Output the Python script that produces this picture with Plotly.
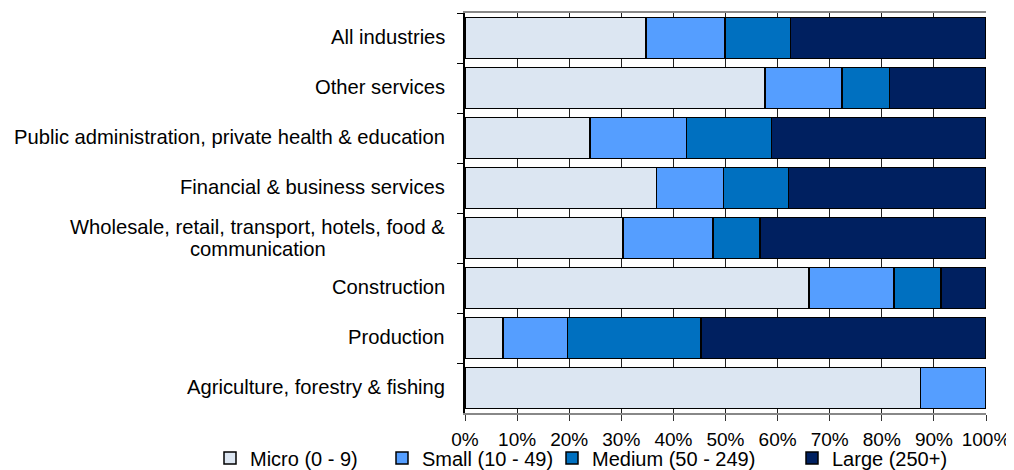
import plotly.graph_objects as go

categories = [
    "All industries",
    "Other services",
    "Public administration, private health & education",
    "Financial & business services",
    "Wholesale, retail, transport, hotels, food & communication",
    "Construction",
    "Production",
    "Agriculture, forestry & fishing",
]
# how each category label is broken into lines
label_lines = {
    "Wholesale, retail, transport, hotels, food & communication":
        ["Wholesale, retail, transport, hotels, food &", "communication"],
}

series_names = ["Micro (0 - 9)", "Small (10 - 49)", "Medium (50 - 249)", "Large (250+)"]
micro = [34.7, 57.6, 24.0, 36.8, 30.3, 66.0, 7.3, 87.4]
small = [15.2, 14.8, 18.5, 12.8, 17.3, 16.3, 12.4, 12.6]
medium = [12.6, 9.1, 16.3, 12.5, 9.0, 9.1, 25.6, 0.0]
large = [37.5, 18.5, 41.2, 37.9, 43.4, 8.6, 54.7, 0.0]
series_values = [micro, small, medium, large]
colors = ["#DCE6F2", "#559EFF", "#0070C0", "#002060"]

x_ticks = list(range(0, 101, 10))
x_tick_labels = [f"{v}%" for v in x_ticks]

FONT = "Liberation Sans, Arial, sans-serif"
LABEL_SIZE = 20.2
# page body has an 8px margin, so the figure is sized to fit the window
W, H = 1006, 462

legend_ids = ["legend", "legend2", "legend3", "legend4"]
legend_x_px = [202, 374, 544, 784]

fig = go.Figure()
for name, vals, col, lid in zip(series_names, series_values, colors, legend_ids):
    fig.add_trace(go.Bar(
        y=categories, x=vals, name=name, orientation="h", legend=lid,
        marker=dict(color=col, line=dict(color="black", width=1.5)),
    ))

annotations = []
label_font = dict(family=FONT, size=LABEL_SIZE, color="black")
for key in categories:
    if key in label_lines:
        l1, l2 = label_lines[key]
        # first line right-aligned next to the axis, second line centred under it
        w1 = 379  # approximate pixel width of first line
        annotations.append(dict(
            xref="paper", yref="y", x=0, y=key, xshift=-18, yshift=11,
            xanchor="right", yanchor="middle", text=l1, showarrow=False,
            font=label_font,
        ))
        annotations.append(dict(
            xref="paper", yref="y", x=0, y=key, xshift=-18 - w1 / 2, yshift=-11,
            xanchor="center", yanchor="middle", text=l2, showarrow=False,
            font=label_font,
        ))
    else:
        annotations.append(dict(
            xref="paper", yref="y", x=0, y=key, xshift=-18, yshift=1,
            xanchor="right", yanchor="middle", text=key, showarrow=False,
            font=label_font,
        ))

layout_legends = {}
for lid, xpx in zip(legend_ids, legend_x_px):
    layout_legends[lid] = dict(
        xref="container", yref="container",
        x=xpx / W, y=1 - 450 / H, xanchor="left", yanchor="middle",
        orientation="h", itemwidth=30,
        font=dict(family=FONT, size=20, color="black"),
        bgcolor="rgba(0,0,0,0)", borderwidth=0,
    )

fig.update_layout(
    width=W, height=H,
    margin=dict(l=457, r=28, t=5, b=57, autoexpand=False),
    barmode="stack", bargap=0.18,
    plot_bgcolor="white", paper_bgcolor="white",
    font=dict(family=FONT, size=20, color="black"),
    showlegend=True,
    annotations=annotations,
    xaxis=dict(
        range=[0, 100], tickvals=x_ticks, ticktext=x_tick_labels,
        showgrid=True, gridcolor="#222222", gridwidth=1,
        showline=True, linecolor="#888888", linewidth=1.5, mirror=True,
        ticks="outside", ticklen=6, tickcolor="#333333",
        ticklabelstandoff=2,
        zeroline=False, fixedrange=True, automargin=False,
        tickfont=dict(family=FONT, size=19),
    ),
    yaxis=dict(
        categoryorder="array", categoryarray=categories, autorange="reversed",
        showticklabels=False, showgrid=False,
        showline=True, linecolor="black", linewidth=1.5,
        ticks="outside", ticklen=6, tickcolor="black", tickson="boundaries",
        zeroline=False, fixedrange=True, automargin=False,
    ),
    **layout_legends,
)

fig.write_html("out.html")
